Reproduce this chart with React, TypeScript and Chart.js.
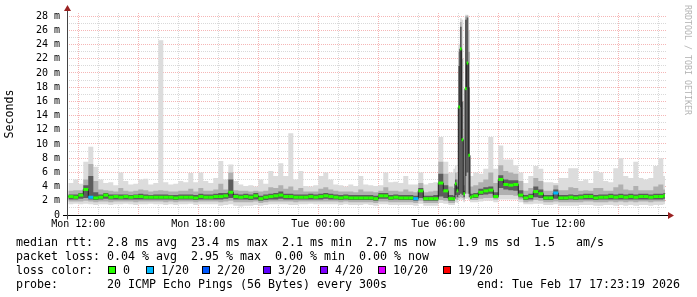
import React, { useEffect, useRef } from 'react';
import { Chart, registerables } from 'chart.js';

Chart.register(...registerables);

// ---- time of each sample (minutes since Mon 00:00); 15-min bins, 5-min bins around the big spikes
const sampleMinutes = [
  690, 705, 720, 735, 750, 765, 780, 795, 810, 825,
  840, 855, 870, 885, 900, 915, 930, 945, 960, 975,
  990, 1005, 1020, 1035, 1050, 1065, 1080, 1095, 1110, 1125,
  1140, 1155, 1170, 1185, 1200, 1215, 1230, 1245, 1260, 1275,
  1290, 1305, 1320, 1335, 1350, 1365, 1380, 1395, 1410, 1425,
  1440, 1455, 1470, 1485, 1500, 1515, 1530, 1545, 1560, 1575,
  1590, 1605, 1620, 1635, 1650, 1665, 1680, 1695, 1710, 1725,
  1740, 1755, 1770, 1785, 1800, 1815, 1830,
  1845, 1850, 1855, 1860, 1865, 1870, 1875, 1880, 1885, 1890, 1895, 1900,
  1905, 1920, 1935, 1950, 1965, 1980, 1995, 2010, 2025, 2040,
  2055, 2070, 2085, 2100, 2115, 2130, 2145, 2160, 2175, 2190,
  2205, 2220, 2235, 2250, 2265, 2280, 2295, 2310, 2325, 2340,
  2355, 2370, 2385, 2400, 2415, 2430, 2445, 2460, 2475,
  2480,
];

// median rtt (ms)
const medianRtt = [
  2.6, 2.5, 2.8, 3.6, 2.5, 2.4, 2.5, 2.8, 2.5, 2.6,
  2.5, 2.6, 2.5, 2.6, 2.6, 2.5, 2.5, 2.5, 2.5, 2.5,
  2.5, 2.4, 2.5, 2.5, 2.5, 2.4, 2.6, 2.5, 2.5, 2.6,
  2.6, 2.7, 3.2, 2.6, 2.5, 2.6, 2.5, 2.7, 2.3, 2.5,
  2.6, 2.7, 2.8, 2.6, 2.6, 2.5, 2.5, 2.5, 2.6, 2.5,
  2.6, 2.7, 2.6, 2.5, 2.4, 2.5, 2.4, 2.4, 2.4, 2.4,
  2.4, 2.3, 2.7, 2.7, 2.4, 2.5, 2.4, 2.4, 2.4, 2.3,
  3.4, 2.3, 2.3, 2.3, 4.5, 3.4, 2.3,
  2.3, 4.4, 3.4, 15.2, 23.4, 10.6, 3.0, 17.8, 21.4, 8.4, 2.5, 2.6,
  2.7, 3.2, 3.4, 3.5, 2.6, 5.0, 4.3, 4.2, 4.3, 2.8,
  2.4, 2.6, 3.3, 3.0, 2.4, 2.4, 3.1, 2.4, 2.4, 2.5,
  2.4, 2.5, 2.6, 2.6, 2.4, 2.5, 2.5, 2.6, 2.5, 2.6,
  2.5, 2.6, 2.5, 2.6, 2.6, 2.5, 2.6, 2.6, 2.7,
  2.7,
];

// smoke: outer (max) envelope
const smokeMax = [
  4.5, 5.0, 4.4, 7.5, 9.6, 6.8, 5.0, 4.5, 4.6, 4.2,
  6.0, 4.8, 4.3, 4.4, 5.0, 5.1, 4.3, 4.5, 24.6, 4.6,
  4.3, 4.4, 4.8, 4.6, 5.9, 4.6, 6.0, 4.8, 4.5, 5.2,
  7.6, 5.0, 7.1, 4.8, 4.3, 4.1, 4.2, 4.0, 5.0, 4.4,
  6.2, 5.5, 7.3, 5.5, 11.5, 5.0, 6.2, 4.1, 4.0, 4.2,
  5.5, 6.0, 5.0, 4.3, 4.2, 4.0, 4.3, 4.1, 5.5, 4.3,
  4.2, 4.1, 4.2, 6.0, 4.6, 4.7, 4.5, 5.5, 4.3, 4.3,
  6.0, 4.3, 4.5, 4.6, 11.0, 7.5, 6.0,
  6.5, 7.0, 6.0, 24.0, 27.7, 27.5, 5.5, 28.2, 28.2, 26.0, 5.5, 5.5,
  6.0, 5.8, 6.5, 11.0, 6.5, 9.8, 7.8, 7.8, 7.0, 6.0,
  4.5, 5.5, 6.9, 6.5, 4.6, 4.6, 4.5, 5.2, 5.2, 6.6,
  6.6, 4.8, 5.0, 4.5, 6.2, 6.0, 4.8, 4.6, 6.6, 8.0,
  5.5, 5.2, 7.5, 5.2, 5.0, 5.2, 6.9, 8.0, 5.5,
  5.5,
];

// smoke: middle upper envelope
const smokeUpperMid = [
  3.4, 3.5, 3.5, 5.0, 7.2, 4.8, 3.6, 3.5, 3.4, 3.3,
  3.8, 3.4, 3.3, 3.4, 3.6, 3.5, 3.3, 3.4, 3.5, 3.4,
  3.3, 3.3, 3.4, 3.4, 3.7, 3.3, 3.8, 3.4, 3.4, 3.6,
  4.4, 3.6, 6.0, 3.5, 3.4, 3.4, 3.3, 3.4, 3.3, 3.4,
  3.9, 3.8, 4.2, 3.7, 4.0, 3.5, 3.8, 3.3, 3.3, 3.3,
  3.7, 3.9, 3.6, 3.4, 3.3, 3.3, 3.3, 3.2, 3.6, 3.3,
  3.3, 3.2, 3.4, 3.9, 3.4, 3.4, 3.3, 3.6, 3.3, 3.2,
  4.5, 3.2, 3.3, 3.4, 7.5, 5.8, 4.0,
  3.8, 6.0, 5.0, 23.0, 27.2, 22.0, 4.2, 28.0, 28.1, 23.0, 4.0, 4.0,
  4.2, 4.6, 5.0, 6.0, 4.5, 7.0, 6.2, 6.0, 5.8, 4.8,
  3.4, 3.8, 5.2, 4.8, 3.4, 3.4, 4.2, 3.5, 3.5, 3.9,
  3.8, 3.4, 3.5, 3.4, 3.8, 3.8, 3.4, 3.4, 3.9, 4.3,
  3.6, 3.5, 4.1, 3.5, 3.5, 3.5, 4.0, 4.3, 3.6,
  3.6,
];

// smoke: core upper envelope (pings nearest the median)
const smokeUpperCore = [
  2.9, 2.9, 3.1, 4.2, 5.5, 3.2, 2.9, 3.1, 2.9, 2.9,
  2.9, 2.9, 2.8, 2.9, 3.0, 2.9, 2.8, 2.9, 2.9, 2.9,
  2.8, 2.8, 2.9, 2.9, 2.9, 2.8, 3.0, 2.9, 2.9, 3.0,
  3.1, 3.1, 5.0, 3.0, 2.9, 3.0, 2.9, 3.1, 2.7, 2.9,
  3.0, 3.1, 3.3, 3.0, 3.0, 2.9, 2.9, 2.9, 3.0, 2.9,
  3.0, 3.1, 3.0, 2.9, 2.8, 2.9, 2.8, 2.8, 2.8, 2.8,
  2.8, 2.7, 3.1, 3.1, 2.8, 2.9, 2.8, 2.8, 2.8, 2.7,
  3.8, 2.7, 2.7, 2.8, 5.8, 4.2, 2.8,
  2.7, 5.0, 4.0, 21.0, 26.5, 16.0, 3.4, 27.5, 27.8, 18.0, 3.0, 3.0,
  3.1, 3.7, 3.9, 4.0, 3.2, 5.6, 5.0, 4.9, 4.9, 3.5,
  2.8, 3.0, 4.0, 3.6, 2.8, 2.8, 3.6, 2.8, 2.8, 2.9,
  2.8, 2.9, 3.0, 3.0, 2.8, 2.9, 2.9, 3.0, 2.9, 3.0,
  2.9, 3.0, 2.9, 3.0, 3.0, 2.9, 3.0, 3.0, 3.1,
  3.1,
];

// smoke: core lower envelope
const smokeLowerCore = [
  2.2, 2.2, 2.3, 2.4, 2.2, 2.1, 2.2, 2.3, 2.2, 2.2,
  2.2, 2.2, 2.2, 2.2, 2.2, 2.2, 2.2, 2.2, 2.2, 2.2,
  2.2, 2.1, 2.2, 2.2, 2.2, 2.1, 2.2, 2.2, 2.2, 2.2,
  2.2, 2.3, 2.4, 2.2, 2.2, 2.2, 2.1, 2.2, 2.0, 2.1,
  2.2, 2.2, 2.3, 2.2, 2.2, 2.2, 2.2, 2.2, 2.2, 2.2,
  2.2, 2.3, 2.2, 2.2, 2.1, 2.2, 2.1, 2.1, 2.1, 2.1,
  2.1, 2.0, 2.3, 2.3, 2.1, 2.2, 2.1, 2.1, 2.1, 2.0,
  2.4, 2.0, 2.0, 2.0, 2.6, 2.4, 2.0,
  2.0, 2.8, 2.5, 2.8, 3.0, 2.8, 2.5, 5.5, 6.0, 3.0, 2.3, 2.4,
  2.4, 2.8, 2.9, 3.0, 2.4, 3.8, 3.6, 3.5, 3.4, 2.5,
  2.1, 2.2, 2.5, 2.4, 2.1, 2.1, 2.3, 2.1, 2.1, 2.2,
  2.1, 2.2, 2.2, 2.2, 2.1, 2.2, 2.2, 2.2, 2.2, 2.2,
  2.2, 2.2, 2.2, 2.2, 2.2, 2.2, 2.2, 2.2, 2.3,
  2.3,
];

// smoke: middle lower envelope
const smokeLowerMid = [
  1.9, 1.9, 1.9, 2.0, 1.9, 1.8, 1.9, 1.9, 1.8, 1.9,
  1.9, 1.9, 1.9, 1.8, 1.9, 1.9, 1.9, 1.9, 1.9, 1.8,
  1.9, 1.8, 1.9, 1.9, 1.9, 1.8, 1.9, 1.9, 1.9, 1.9,
  1.8, 1.9, 2.0, 1.8, 1.8, 1.8, 1.8, 1.9, 1.7, 1.8,
  1.9, 1.9, 1.9, 1.9, 1.9, 1.8, 1.9, 1.9, 1.9, 1.9,
  1.9, 1.9, 1.9, 1.9, 1.8, 1.9, 1.8, 1.8, 1.8, 1.8,
  1.8, 1.7, 1.9, 1.9, 1.8, 1.8, 1.8, 1.8, 1.8, 1.7,
  2.0, 1.7, 1.7, 1.7, 2.1, 2.0, 1.7,
  1.7, 2.2, 2.1, 2.4, 2.5, 2.4, 2.2, 3.0, 3.0, 2.5, 2.1, 2.1,
  2.1, 2.3, 2.4, 2.4, 2.2, 2.8, 2.8, 2.8, 2.7, 2.2,
  1.8, 1.9, 2.1, 2.0, 1.8, 1.8, 1.9, 1.8, 1.8, 1.8,
  1.8, 1.8, 1.9, 1.9, 1.8, 1.8, 1.8, 1.9, 1.8, 1.9,
  1.8, 1.9, 1.8, 1.9, 1.9, 1.8, 1.9, 1.9, 1.9,
  1.9,
];

// smoke: outer (min) envelope
const smokeMin = [
  1.5, 1.6, 1.5, 1.6, 1.5, 1.4, 1.5, 1.5, 1.4, 1.5,
  1.5, 1.6, 1.5, 1.4, 1.5, 1.5, 1.6, 1.5, 1.5, 1.4,
  1.5, 1.4, 1.5, 1.5, 1.6, 1.4, 1.5, 1.5, 1.5, 1.5,
  1.3, 1.4, 1.5, 1.3, 1.2, 1.3, 1.3, 1.4, 1.3, 1.4,
  1.5, 1.5, 1.5, 1.5, 1.4, 1.4, 1.5, 1.5, 1.6, 1.5,
  1.5, 1.5, 1.5, 1.5, 1.4, 1.5, 1.4, 1.4, 1.4, 1.5,
  1.4, 1.3, 1.5, 1.5, 1.4, 1.4, 1.4, 1.4, 1.4, 1.3,
  1.6, 1.3, 1.3, 1.3, 1.7, 1.6, 1.4,
  1.4, 1.8, 1.7, 2.1, 2.2, 2.1, 1.8, 2.3, 2.3, 2.1, 1.8, 1.8,
  1.8, 1.9, 2.0, 2.0, 1.8, 2.2, 2.2, 2.2, 2.2, 1.8,
  1.5, 1.5, 1.6, 1.6, 1.4, 1.4, 1.5, 1.3, 1.3, 1.3,
  1.3, 1.4, 1.4, 1.4, 1.3, 1.3, 1.4, 1.4, 1.3, 1.4,
  1.3, 1.4, 1.3, 1.4, 1.4, 1.3, 1.4, 1.4, 1.5,
  1.5,
];

// pings lost (of 20) per sample
const lossCount = [
  0, 0, 0, 0, 1, 0, 0, 0, 0, 0,
  0, 0, 0, 0, 0, 0, 0, 0, 0, 0,
  0, 0, 0, 0, 0, 0, 0, 0, 0, 0,
  0, 0, 0, 0, 0, 0, 0, 0, 0, 0,
  0, 0, 0, 0, 0, 0, 0, 0, 0, 0,
  0, 0, 0, 0, 0, 0, 0, 0, 0, 0,
  0, 0, 0, 0, 0, 0, 0, 0, 0, 1,
  0, 0, 0, 0, 0, 0, 0,
  0, 0, 0, 0, 0, 0, 0, 0, 0, 0, 0, 0,
  0, 0, 0, 0, 0, 0, 0, 0, 0, 0,
  0, 0, 0, 0, 0, 0, 1, 0, 0, 0,
  0, 0, 0, 0, 0, 0, 0, 0, 0, 0,
  0, 0, 0, 0, 0, 0, 0, 0, 0,
  0,
];

// loss legend
const lossThresholds = [0, 1, 2, 3, 4, 10, 19];
const lossColors = ['#26ff00', '#00b8ff', '#0059ff', '#5e00ff', '#7e00ff', '#dd00ff', '#ff0000'];
const lossLabels = ['0', '1/20', '2/20', '3/20', '4/20', '10/20', '19/20'];

// axis ticks
const xTickMinutes = [720, 1080, 1440, 1800, 2160];
const xTickLabels = ['Mon 12:00', 'Mon 18:00', 'Tue 00:00', 'Tue 06:00', 'Tue 12:00'];
const yTickValues = [0, 1, 2, 3, 4, 5, 6, 7, 8, 9, 10, 11, 12, 13, 14, 15, 16, 17, 18, 19, 20, 21, 22, 23, 24, 25, 26, 27, 28];

// summary statistics
const rttStats = [2.8, 23.4, 2.1, 2.7]; // avg, max, min, now (ms)
const rttSd = 1.9;
const rttAmS = 1.5;
const lossStats = [0.04, 2.95, 0.0, 0.0]; // avg, max, min, now (%)
const probeText = '20 ICMP Echo Pings (56 Bytes) every 300s';
const endText = 'end: Tue Feb 17 17:23:19 2026';

const X_MIN = 686.1;
const X_MAX = 2486.1;
const Y_MAX = 28.45;

const MONO = '"DejaVu Sans Mono", "Liberation Mono", monospace';
const MAJOR_GRID = 'rgba(235,110,110,0.5)';
const MINOR_GRID = 'rgba(170,170,170,0.45)';

function colorForLoss(n: number): string {
  let c = lossColors[0];
  for (let i = 0; i < lossThresholds.length; i++) if (n >= lossThresholds[i]) c = lossColors[i];
  return c;
}

const pts = (arr: number[]) => sampleMinutes.map((t, i) => ({ x: t, y: arr[i] }));

function medianBlocks() {
  const out: { x: number; y: number | null }[] = [];
  for (let k = 0; k < sampleMinutes.length - 1; k++) {
    out.push({ x: sampleMinutes[k], y: medianRtt[k] });
    out.push({ x: sampleMinutes[k + 1], y: medianRtt[k] });
    out.push({ x: sampleMinutes[k + 1], y: null });
  }
  return out;
}

const axesPlugin = {
  id: 'rrdAxes',
  afterDatasetsDraw(chart: any) {
    const { ctx, chartArea, scales } = chart;
    const y0 = Math.round(scales.y.getPixelForValue(0)) + 0.5;
    const x0 = Math.round(chartArea.left) + 0.5;
    ctx.save();
    ctx.strokeStyle = '#000';
    ctx.lineWidth = 1;
    ctx.beginPath();
    ctx.moveTo(chartArea.left - 4, y0);
    ctx.lineTo(chartArea.right + 2, y0);
    ctx.stroke();
    ctx.strokeStyle = '#444';
    ctx.beginPath();
    ctx.moveTo(x0, y0 + 4);
    ctx.lineTo(x0, chartArea.top - 3);
    ctx.stroke();
    ctx.fillStyle = '#9a2222';
    ctx.beginPath();
    ctx.moveTo(chartArea.right + 1, y0 - 3.5);
    ctx.lineTo(chartArea.right + 7, y0);
    ctx.lineTo(chartArea.right + 1, y0 + 3.5);
    ctx.closePath();
    ctx.fill();
    ctx.beginPath();
    ctx.moveTo(x0 - 3.5, chartArea.top - 2);
    ctx.lineTo(x0, chartArea.top - 8);
    ctx.lineTo(x0 + 3.5, chartArea.top - 2);
    ctx.closePath();
    ctx.fill();
    ctx.restore();
  },
};

export default function App() {
  const canvasRef = useRef<HTMLCanvasElement>(null);

  useEffect(() => {
    document.body.style.margin = '0';
    const canvas = canvasRef.current;
    if (!canvas) return;
    const band = { stepped: true, pointRadius: 0, borderWidth: 0, tension: 0 } as any;
    const chart = new Chart(canvas, {
      type: 'line',
      data: {
        datasets: [
          { ...band, label: 'min', data: pts(smokeMin), fill: false, order: 6 },
          { ...band, label: 'max', data: pts(smokeMax), fill: '-1', backgroundColor: '#dcdcdc', order: 6 },
          { ...band, label: 'lowmid', data: pts(smokeLowerMid), fill: false, order: 5 },
          { ...band, label: 'upmid', data: pts(smokeUpperMid), fill: '-1', backgroundColor: '#b0b0b0', order: 5 },
          { ...band, label: 'lowcore', data: pts(smokeLowerCore), fill: false, order: 4 },
          { ...band, label: 'upcore', data: pts(smokeUpperCore), fill: '-1', backgroundColor: '#5c5c5c', order: 4 },
          {
            label: 'median', data: pts(medianRtt), stepped: true, pointRadius: 0, borderWidth: 1,
            borderColor: '#202020', fill: false, order: 2,
          },
          {
            label: 'loss', data: medianBlocks(), pointRadius: 0, borderWidth: 3, borderCapStyle: 'butt',
            spanGaps: false, fill: false, order: 1, borderColor: lossColors[0],
            segment: { borderColor: (c: any) => colorForLoss(lossCount[Math.floor(c.p0DataIndex / 3)]) },
          },
        ] as any,
      },
      options: {
        responsive: false,
        animation: false,
        events: [],
        devicePixelRatio: 1,
        layout: { padding: { top: 13, right: 30, bottom: 0, left: 0 } },
        plugins: { legend: { display: false }, tooltip: { enabled: false } },
        scales: {
          x: {
            type: 'linear',
            min: X_MIN,
            max: X_MAX,
            afterBuildTicks: (s: any) => {
              const t = [];
              for (let m = 720; m <= 2460; m += 60) t.push({ value: m });
              s.ticks = t;
            },
            afterFit: (s: any) => { s.height = 82; },
            ticks: {
              autoSkip: false,
              maxRotation: 0,
              padding: 3,
              color: '#000',
              font: { family: MONO, size: 10 },
              callback: (v: any) => {
                const i = xTickMinutes.indexOf(Number(v));
                return i >= 0 ? xTickLabels[i] : '';
              },
            },
            grid: {
              drawTicks: false,
              lineWidth: 1,
              color: (c: any) => (c.tick && c.tick.value % 180 === 0 ? MAJOR_GRID : MINOR_GRID),
            },
            border: { display: false, dash: [1, 1] },
          },
          y: {
            type: 'linear',
            min: 0,
            max: Y_MAX,
            afterBuildTicks: (s: any) => { s.ticks = yTickValues.map((v) => ({ value: v })); },
            afterFit: (s: any) => { s.width = 67; },
            ticks: {
              autoSkip: false,
              padding: 7,
              color: '#000',
              font: { family: MONO, size: 10 },
              callback: (v: any) => {
                const n = Number(v);
                if (n % 2 !== 0) return '';
                return n === 0 ? '0' : n + ' m';
              },
            },
            grid: {
              drawTicks: false,
              lineWidth: 1,
              color: (c: any) => (c.tick && c.tick.value % 2 === 0 ? MAJOR_GRID : MINOR_GRID),
            },
            border: { display: false, dash: [1, 1] },
            title: {
              display: true,
              text: 'Seconds',
              color: '#000',
              font: { family: MONO, size: 11.63 },
              padding: { top: 3, bottom: 0 },
            },
          },
        },
      } as any,
      plugins: [axesPlugin],
    });
    return () => chart.destroy();
  }, []);

  const textStyle: React.CSSProperties = {
    position: 'absolute',
    fontFamily: MONO,
    fontSize: '11.63px',
    lineHeight: '14px',
    whiteSpace: 'pre',
    color: '#000',
  };
  const legendBoxX = [108, 146, 202, 263, 320, 378, 443];

  const row1 =
    `median rtt:  ${rttStats[0].toFixed(1)} ms avg  ${rttStats[1].toFixed(1)} ms max  ` +
    `${rttStats[2].toFixed(1)} ms min  ${rttStats[3].toFixed(1)} ms now   ${rttSd.toFixed(1)} ms sd  ` +
    `${rttAmS.toFixed(1)}   am/s`;
  const row2 =
    `packet loss: ${lossStats[0].toFixed(2)} % avg  ${lossStats[1].toFixed(2)} % max  ` +
    `${lossStats[2].toFixed(2)} % min  ${lossStats[3].toFixed(2)} % now`;

  return (
    <div style={{ position: 'relative', width: 697, height: 297, background: '#fff', overflow: 'hidden' }}>
      <canvas ref={canvasRef} width={697} height={297} style={{ position: 'absolute', left: 0, top: 0, width: 697, height: 297 }} />
      <div style={{ ...textStyle, left: 16, top: 235 }}>{row1}</div>
      <div style={{ ...textStyle, left: 16, top: 249 }}>{row2}</div>
      <div style={{ ...textStyle, left: 16, top: 263 }}>loss color:</div>
      {lossLabels.map((lab, i) => (
        <React.Fragment key={lab}>
          <div
            style={{
              position: 'absolute',
              left: legendBoxX[i],
              top: 266,
              width: 6,
              height: 6,
              background: lossColors[i],
              border: '1px solid #000',
            }}
          />
          <div style={{ ...textStyle, left: legendBoxX[i] + 15, top: 263 }}>{lab}</div>
        </React.Fragment>
      ))}
      <div style={{ ...textStyle, left: 16, top: 277 }}>{'probe:       ' + probeText}</div>
      <div style={{ ...textStyle, right: 17, top: 277 }}>{endText}</div>
      <div
        style={{
          position: 'absolute',
          left: 692,
          top: 5,
          transformOrigin: '0 0',
          transform: 'rotate(90deg)',
          fontFamily: MONO,
          fontSize: '8.3px',
          lineHeight: '9px',
          whiteSpace: 'pre',
          color: '#b4b4b4',
        }}
      >
        RRDTOOL / TOBI OETIKER
      </div>
    </div>
  );
}
